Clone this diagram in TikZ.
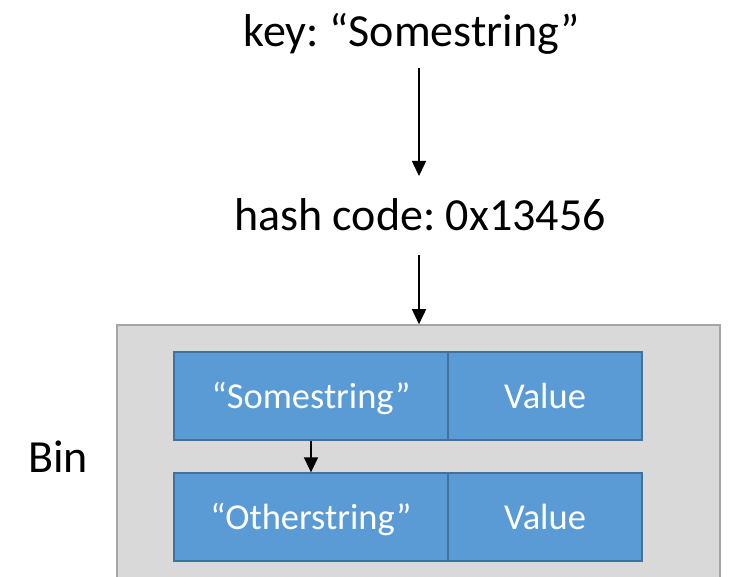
\documentclass[tikz,border=0pt]{standalone}
\usepackage{fontspec}
\setmainfont{Carlito}
\usetikzlibrary{arrows.meta}
\frenchspacing
\definecolor{cellblue}{HTML}{5B9BD5}
\definecolor{celledge}{HTML}{41719C}
\definecolor{bingrey}{HTML}{D9D9D9}
\definecolor{binedge}{HTML}{A6A6A6}
\tikzset{
  bigtext/.style={inner sep=0pt, anchor=base, font=\fontsize{46}{55}\selectfont},
  cell/.style={draw=celledge, fill=cellblue, line width=1.3pt, text=white,
    inner sep=0pt, text height=30pt, text depth=6pt,
    font=\fontsize{36.5}{44}\selectfont},
  keycell/.style={cell, minimum width=274pt, minimum height=88pt},
  valcell/.style={cell, minimum width=194pt, minimum height=88pt},
  binbox/.style={draw=binedge, fill=bingrey, line width=1.6pt, inner sep=0pt,
    minimum width=603pt, minimum height=300pt},
  arr/.style={line width=1.6pt, -{Triangle[length=15pt, width=14pt]}}
}
\begin{document}
\begin{tikzpicture}[x=1pt, y=-1pt]
  \useasboundingbox (0,0) rectangle (730,577);
  \clip (0,0) rectangle (730,577);

  % the bin, running past the bottom edge
  \node[binbox] (bin) at (418.5,475) {};

  % labels above the bin
  \node[bigtext] (key) at (412,47) {key: “Somestring”};
  \node[bigtext] (hash) at (420,230) {hash code: 0x13456};
  \node[bigtext] (binlabel) at (58,472) {Bin};

  % entries stored in the bin
  \node[keycell] (k1) at (311,396) {“Somestring”};
  \node[valcell] (v1) at (545,396) {Value};
  \node[keycell] (k2) at (311,517) {“Otherstring”};
  \node[valcell] (v2) at (545,517) {Value};

  % arrow ends
  \coordinate (a1) at (419,68);
  \coordinate (b1) at (419,176);
  \coordinate (a2) at (419,255);

  \draw[arr] (a1) -- (b1);
  \draw[arr] (a2) -- (bin.north -| a2);
  \draw[arr] (k1.south) -- (k2.north);
\end{tikzpicture}
\end{document}
